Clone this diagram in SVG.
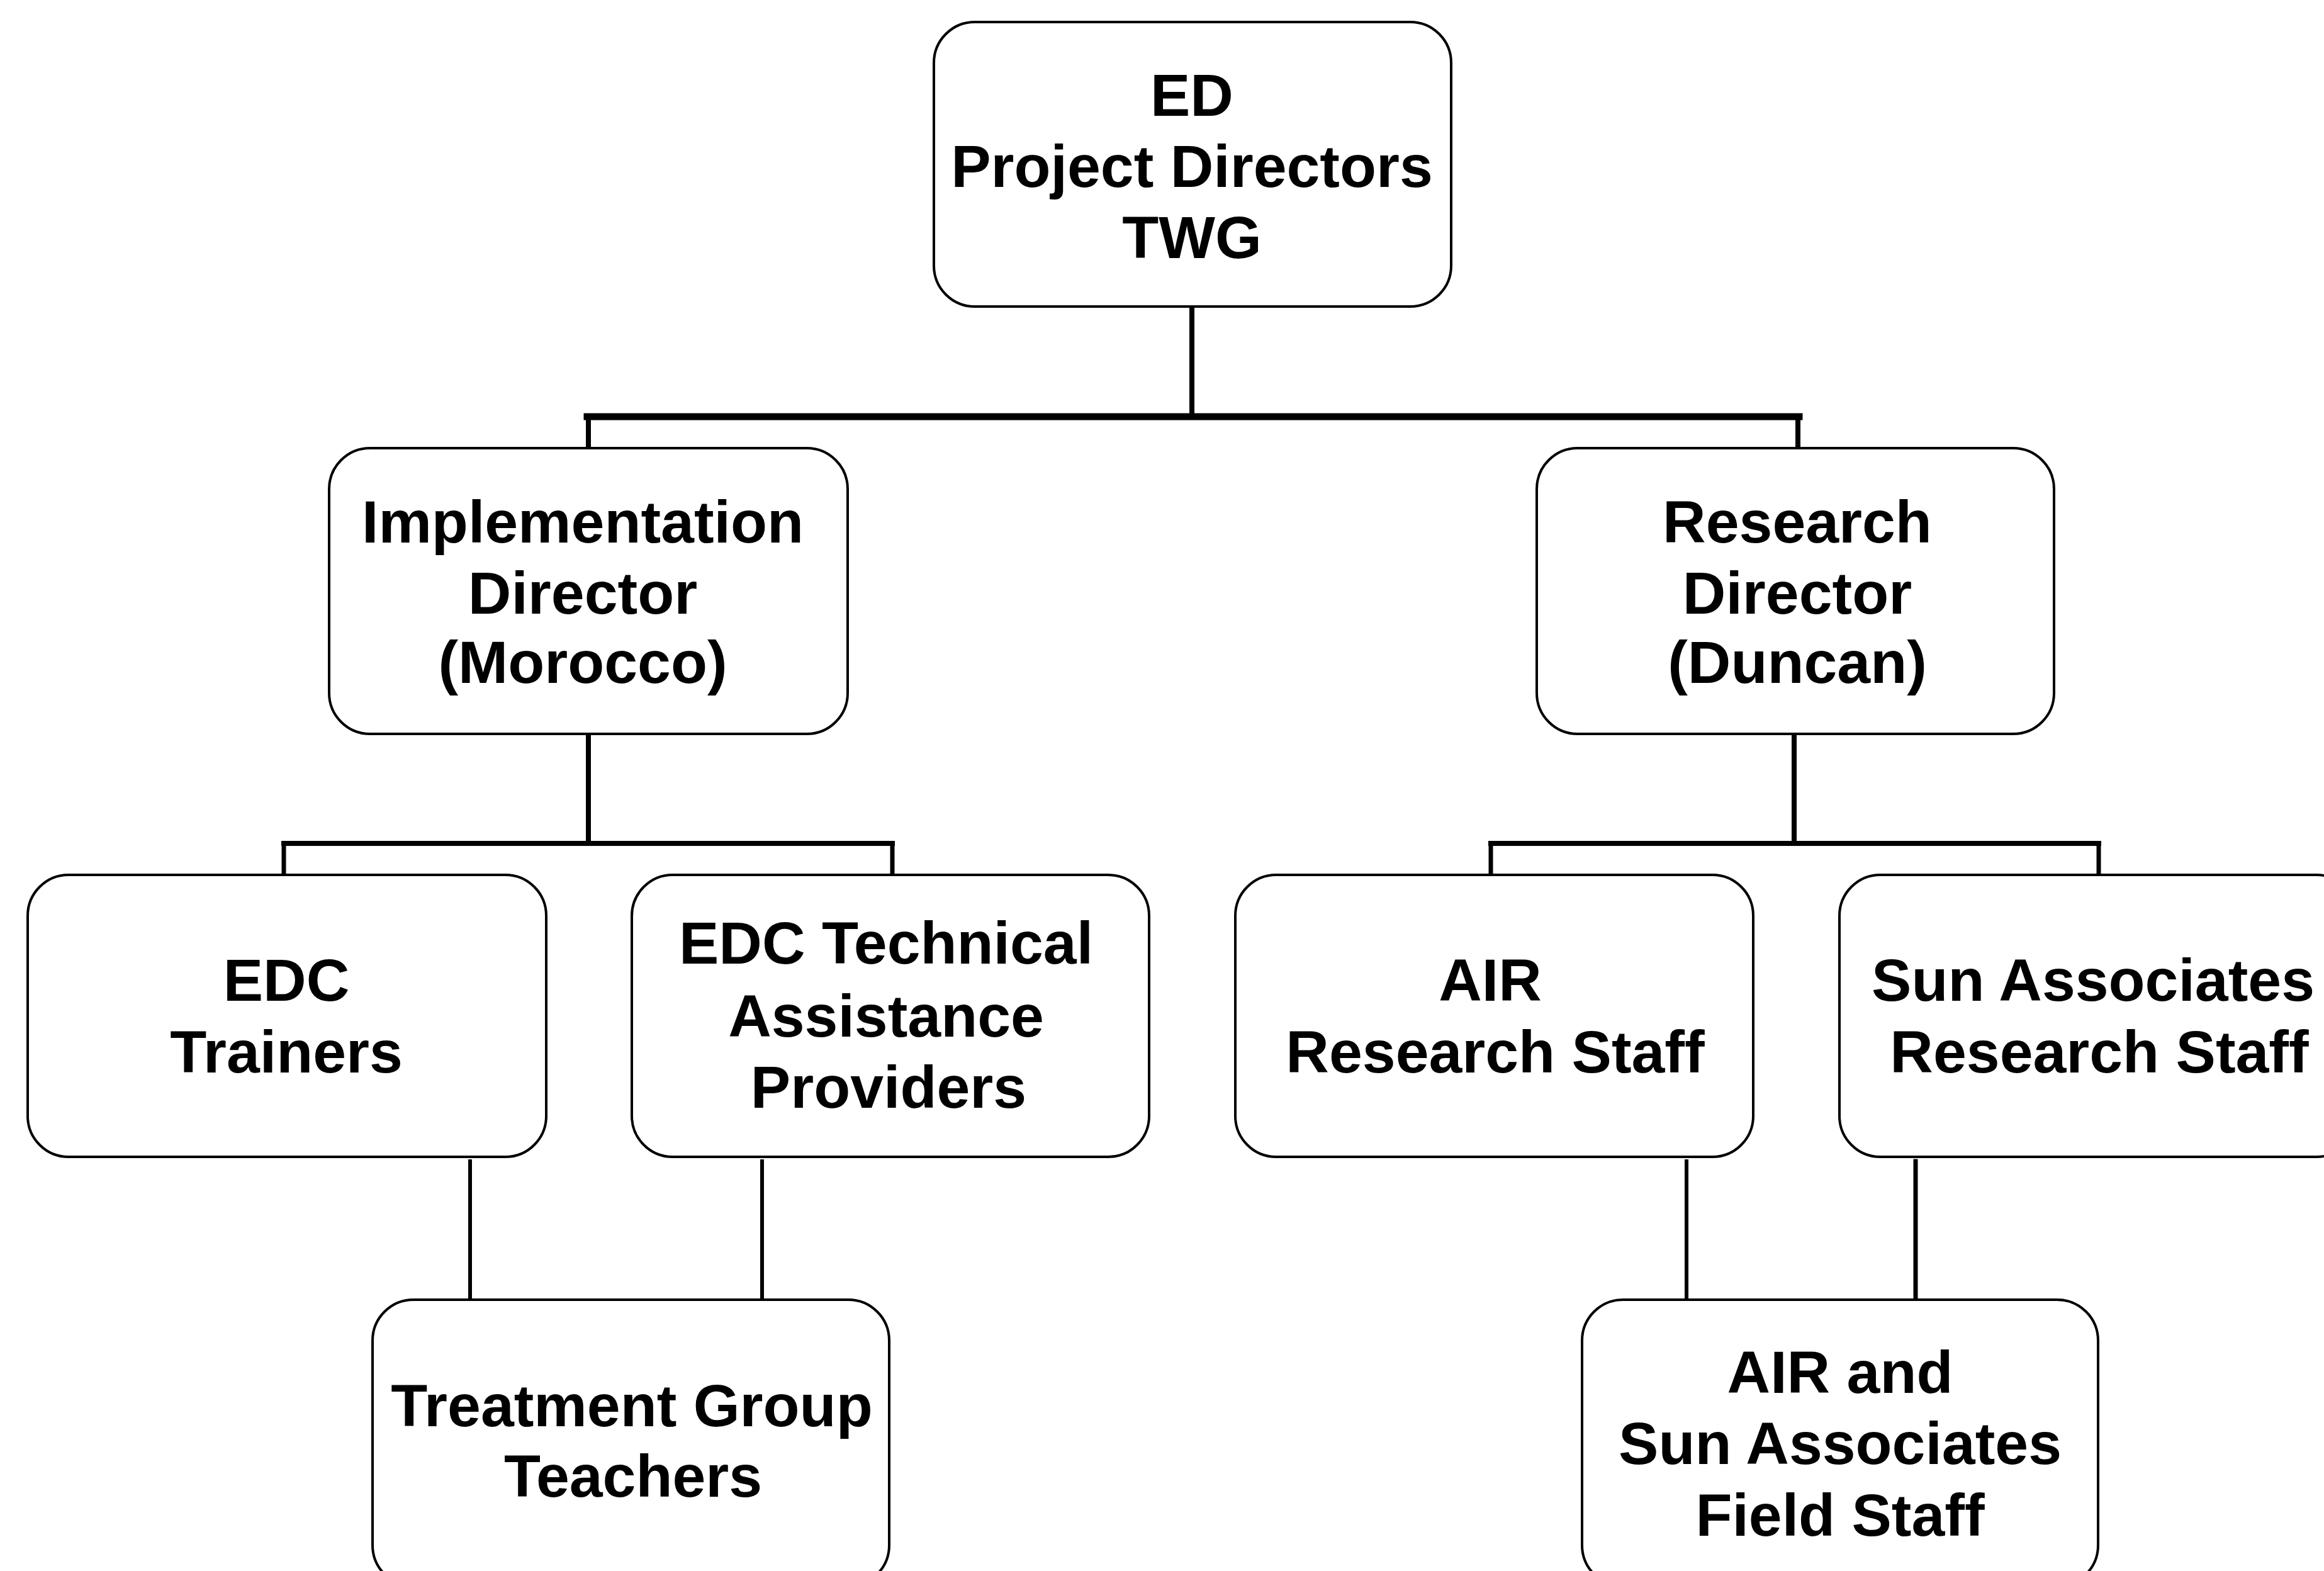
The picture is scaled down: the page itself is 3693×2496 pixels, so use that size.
<svg xmlns="http://www.w3.org/2000/svg" width="3693" height="2496" viewBox="0 0 3693 2496">
<style>
.box{fill:#fff;stroke:#000;stroke-width:4}
.lbl{font-family:"Liberation Sans",Arial,sans-serif;font-weight:bold;font-size:95px;fill:#000;text-anchor:middle}
.c{stroke:#000;fill:none;stroke-linecap:square}
</style>
<rect width="3693" height="2496" fill="#fff"/>
<g id="connectors">
<line class="c" x1="1894" y1="487" x2="1894" y2="662" stroke-width="8"/>
<line class="c" x1="933" y1="662" x2="2859" y2="662" stroke-width="11"/>
<line class="c" x1="935" y1="662" x2="935" y2="712" stroke-width="8"/>
<line class="c" x1="2857" y1="662" x2="2857" y2="712" stroke-width="8"/>
<line class="c" x1="935" y1="1166" x2="935" y2="1340" stroke-width="8"/>
<line class="c" x1="451" y1="1340" x2="1418" y2="1340" stroke-width="8"/>
<line class="c" x1="451" y1="1340" x2="451" y2="1390" stroke-width="7"/>
<line class="c" x1="1418" y1="1340" x2="1418" y2="1390" stroke-width="7"/>
<line class="c" x1="2851" y1="1166" x2="2851" y2="1340" stroke-width="8"/>
<line class="c" x1="2369" y1="1340" x2="3335" y2="1340" stroke-width="8"/>
<line class="c" x1="2369" y1="1340" x2="2369" y2="1390" stroke-width="7"/>
<line class="c" x1="3335" y1="1340" x2="3335" y2="1390" stroke-width="7"/>
<line class="c" x1="747" y1="1845" x2="747" y2="2076" stroke-width="6"/>
<line class="c" x1="1211" y1="1845" x2="1211" y2="2076" stroke-width="6"/>
<line class="c" x1="2680" y1="1845" x2="2680" y2="2076" stroke-width="6"/>
<line class="c" x1="3044" y1="1845" x2="3044" y2="2076" stroke-width="7"/>
</g>
<g id="top">
<rect class="box" x="1484" y="35" width="822" height="452" rx="65"/>
<text class="lbl" x="1894" y="184">ED</text>
<text class="lbl" x="1894" y="297">Project Directors</text>
<text class="lbl" x="1894" y="410">TWG</text>
</g>
<g id="impl">
<rect class="box" x="523" y="712" width="824" height="454" rx="65"/>
<text class="lbl" x="926" y="862">Implementation</text>
<text class="lbl" x="926" y="975">Director</text>
<text class="lbl" x="926" y="1085">(Morocco)</text>
</g>
<g id="research">
<rect class="box" x="2442" y="712" width="822" height="454" rx="65"/>
<text class="lbl" x="2856" y="862">Research</text>
<text class="lbl" x="2856" y="975">Director</text>
<text class="lbl" x="2856" y="1085">(Duncan)</text>
</g>
<g id="edcTrainers">
<rect class="box" x="44" y="1390" width="824" height="448" rx="65"/>
<text class="lbl" x="455" y="1590">EDC</text>
<text class="lbl" x="455" y="1704">Trainers</text>
</g>
<g id="edcTech">
<rect class="box" x="1004" y="1390" width="822" height="448" rx="65"/>
<text class="lbl" x="1408" y="1531">EDC Technical</text>
<text class="lbl" x="1408" y="1647">Assistance</text>
<text class="lbl" x="1412" y="1760">Providers</text>
</g>
<g id="air">
<rect class="box" x="1963" y="1390" width="823" height="448" rx="65"/>
<text class="lbl" x="2368" y="1590">AIR</text>
<text class="lbl" x="2376" y="1704">Research Staff</text>
</g>
<g id="sun">
<rect class="box" x="2923" y="1390" width="823" height="448" rx="65"/>
<text class="lbl" x="3326" y="1590">Sun Associates</text>
<text class="lbl" x="3336" y="1704">Research Staff</text>
</g>
<g id="treatment">
<rect class="box" x="592" y="2065" width="821" height="455" rx="65"/>
<text class="lbl" x="1004" y="2266">Treatment Group</text>
<text class="lbl" x="1006" y="2378">Teachers</text>
</g>
<g id="field">
<rect class="box" x="2514" y="2065" width="820" height="455" rx="65"/>
<text class="lbl" x="2924" y="2213">AIR and</text>
<text class="lbl" x="2924" y="2326">Sun Associates</text>
<text class="lbl" x="2924" y="2440">Field Staff</text>
</g>
</svg>
